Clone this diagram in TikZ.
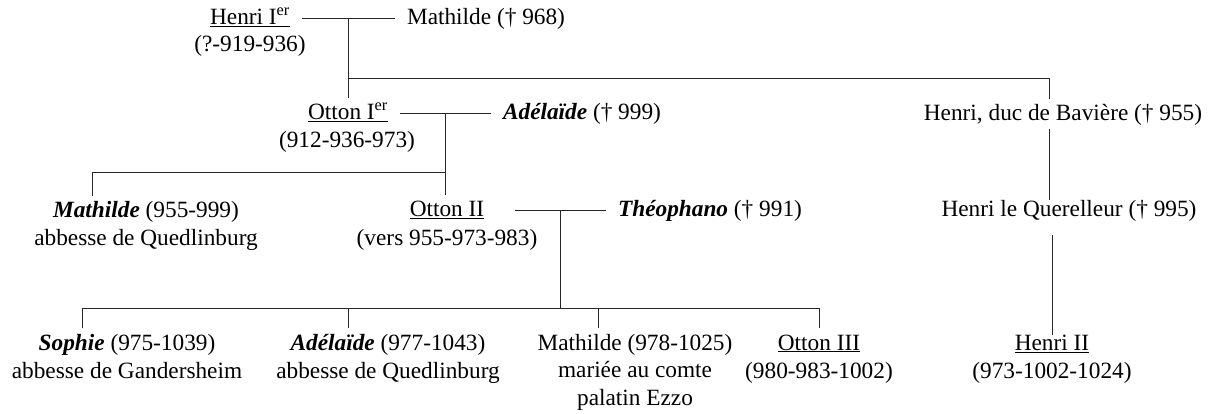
\documentclass[tikz,border=0pt]{standalone}
\usepackage{fontspec}
\setmainfont{Liberation Serif}
\tikzset{
  pers/.style={anchor=base, inner xsep=12pt, inner ysep=4pt, text height=17.5pt, text depth=4.7pt},
  link/.style={draw=black!85, line width=.9pt},
}
\begin{document}
\begin{tikzpicture}[x=1pt, y=-1pt, font=\fontsize{23.3}{28}\selectfont]
      \useasboundingbox (0,0) rectangle (1210,414);
      \draw
        (250,24.5) node[pers] (henri1){\underline{Henri I\textsuperscript{er}}}
        (250,51.5) node[pers] (henri1d){(?-919-936)}
        (486,24.5) node[pers] (mathilde0){Mathilde († 968)}
        (348,120) node[pers] (otton1){\underline{Otton I\textsuperscript{er}}}
        (347,148) node[pers] (otton1d){(912-936-973)}
        (582,120) node[pers] (adelaide0){\textbf{\textit{Adélaïde}} († 999)}
        (1063,120.5) node[pers] (henriB){Henri, duc de Bavière († 955)}
        (146,218) node[pers] (mathilde1){\textbf{\textit{Mathilde}} (955-999)}
        (146,245.5) node[pers] (mathilde1d){abbesse de Quedlinburg}
        (447,217) node[pers] (otton2){\underline{Otton II}}
        (447,245.5) node[pers] (otton2d){(vers 955-973-983)}
        (710,217) node[pers] (theophano){\textbf{\textit{Théophano}} († 991)}
        (1069,217) node[pers] (henriQ){Henri le Querelleur († 995)}
        (127,350) node[pers] (sophie){\textbf{\textit{Sophie}} (975-1039)}
        (127,378) node[pers] (sophied){abbesse de Gandersheim}
        (388,350) node[pers] (adelaide1){\textbf{\textit{Adélaïde}} (977-1043)}
        (388,378) node[pers] (adelaide1d){abbesse de Quedlinburg}
        (635,350) node[pers] (mathilde2){Mathilde (978-1025)}
        (635,377.5) node[pers] (mathilde2d){mariée au comte}
        (635,405) node[pers] (mathilde2e){palatin Ezzo}
        (819,350) node[pers] (otton3){\underline{Otton III}}
        (819,378) node[pers] (otton3d){(980-983-1002)}
        (1052,350.5) node[pers] (henri2){\underline{Henri II}}
        (1052,378) node[pers] (henri2d){(973-1002-1024)};
      \coordinate (b1) at (1049,78);
      \coordinate (b2) at (92,172);
      \coordinate (b3) at (82,308);
      \coordinate (d2) at (348,308);
      \coordinate (d3) at (598,308);
      \begin{scope}[link]
        \draw (henri1) to coordinate (m1) (mathilde0);
        \draw (m1) to (m1 |- otton1.north);
        \draw (m1 |- b1) -- (b1) -- (b1 |- henriB.north);
        \draw[shorten >=-5pt] (henriB.south -| b1) to (henriQ.north -| b1);
        \draw[shorten <=9pt, shorten >=-6pt] (henriQ.south -| henri2) to (henri2.north);
        \draw (otton1) to coordinate (m2) (adelaide0);
        \draw (m2) to (m2 |- otton2.north);
        \draw (m2 |- b2) -- (b2) -- (b2 |- mathilde1.north);
        \draw ([xshift=19pt]otton2.east) to coordinate (m3) (theophano);
        \draw (m3) to (m3 |- b3);
        \draw (b3 |- sophie.north) -- (b3) -| (otton3.north);
        \draw (d2) to (d2 |- adelaide1.north);
        \draw (d3) to (d3 |- mathilde2.north);
      \end{scope}
    \end{tikzpicture}
\end{document}
